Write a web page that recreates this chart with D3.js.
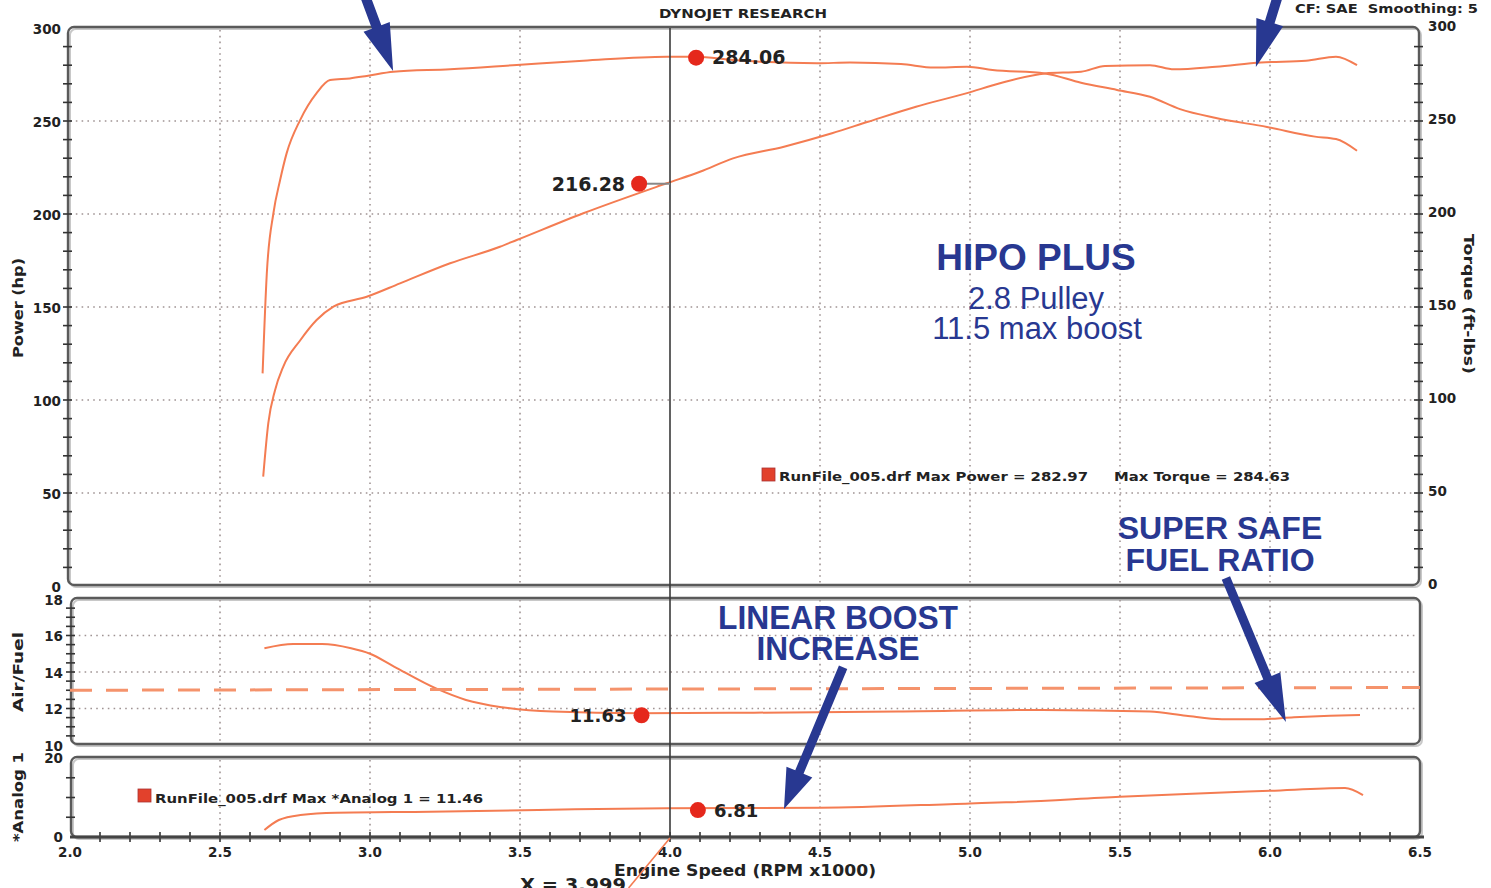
<!DOCTYPE html>
<html><head><meta charset="utf-8">
<script src="https://cdn.jsdelivr.net/npm/d3@7"></script>
<style>body{margin:0;background:#fff}svg{display:block}</style>
</head><body>
<svg id="c" width="1491" height="888"></svg>
<script>
// ---------- data ----------
const rpmTicks = [2.0, 2.5, 3.0, 3.5, 4.0, 4.5, 5.0, 5.5, 6.0, 6.5];
const rpmTickLabels = ["2.0","2.5","3.0","3.5","4.0","4.5","5.0","5.5","6.0","6.5"];
const powerTicks = [0, 50, 100, 150, 200, 250, 300];
const torqueTicks = [0, 50, 100, 150, 200, 250, 300];
const afrTicks = [10, 12, 14, 16, 18];
const analogTicks = [0, 20];

const powerRpm = [2.644,2.661,2.683,2.711,2.767,2.822,2.878,2.989,3.1,3.267,3.433,3.489,3.711,3.989,4.1,4.21,4.38,4.54,4.66,4.82,4.99,5.1,5.25,5.37,5.45,5.6,5.68,5.82,5.97,6.12,6.22,6.29];
const powerHp  = [58.8,87.6,105,118,132,143,150.2,155.5,162.7,173.5,182.4,186,200.4,216.5,222.7,229.9,236.2,243.4,249.6,257.7,265,270.3,275.6,276.5,279.6,280,277.8,279.2,281.5,282.4,284.6,280];

const torqueRpm = [2.642,2.656,2.678,2.7,2.722,2.767,2.822,2.867,2.933,2.989,3.078,3.267,3.489,3.711,3.989,4.087,4.21,4.49,4.6,4.77,4.88,4.99,5.075,5.25,5.37,5.49,5.6,5.7,5.82,5.99,6.15,6.22,6.29];
const torqueFtlb = [114.3,168,200.4,218,232.6,250.5,265,272,272.9,274.2,276.5,277.8,280.1,282.4,284.6,284.6,282.8,281,281.5,280.6,278.7,279.2,277.4,275.6,270.6,266.7,263,256.4,251.6,246.8,241.6,240.3,234];

const afrRpm = [2.648,2.744,2.84,2.937,3.0,3.08,3.22,3.32,3.44,3.61,3.9,4.28,4.76,5.24,5.6,5.72,5.84,5.96,6.08,6.2,6.3];
const afrVal = [15.3,15.53,15.53,15.3,15.0,14.3,13.1,12.47,12.07,11.83,11.74,11.77,11.83,11.92,11.83,11.6,11.41,11.41,11.52,11.6,11.64];
const afrTargetRpm = [2.0, 6.5];
const afrTargetVal = [13.0, 13.15];

const analogRpm = [2.648,2.696,2.768,2.888,3.2,3.56,3.99,4.5,5.0,5.12,5.5,5.72,6.0,6.25,6.31];
const analogVal = [1.77,4.3,5.57,6.15,6.4,6.84,7.3,7.4,8.5,8.77,10.2,10.9,11.7,12.4,10.6];

const cursorRpm = 4.0;
const powerMarker = {rpm: 4.087, value: 284.06, label: "284.06"};
const torqueMarker = {rpm: 3.897, value: 216.28, label: "216.28"};
const afrMarker = {rpm: 3.905, value: 11.63, label: "11.63"};
const analogMarker = {rpm: 4.093, value: 6.81, label: "6.81"};

// ---------- setup ----------
const svg = d3.select("#c");
const FD = "'DejaVu Sans', Verdana, sans-serif";
const FB = "'Liberation Sans', Arial, sans-serif";
const ORANGE = "#F47C52", RED = "#E5281C", BLUE = "#283891", GRID = "#a09494", DARK = "#222";

const x = d3.scaleLinear([2.0, 6.5], [70, 1420]);
const yMain = d3.scaleLinear([0, 300], [586, 28]);
const yAfr = d3.scaleLinear([10, 18], [745, 599]);
const yAn = d3.scaleLinear([0, 20], [837, 758]);

svg.append("rect").attr("width",1491).attr("height",888).attr("fill","#fff");

// panels
const panels = [
  {l:68, t:27, r:1419, b:585},
  {l:71, t:598, r:1420, b:744},
  {l:71, t:757, r:1420, b:837}
];
panels.forEach(p => {
  svg.append("rect").attr("x",p.l+2).attr("y",p.t+2).attr("width",p.r-p.l).attr("height",p.b-p.t)
    .attr("rx",6).attr("fill","none").attr("stroke","#c8c8c8").attr("stroke-width",2);
});

// grids
const gridG = svg.append("g").attr("stroke",GRID).attr("stroke-width",1.6).attr("stroke-dasharray","1.6,4.2").attr("fill","none");
[50,100,150,200,250].forEach(v => gridG.append("line").attr("x1",70).attr("x2",1418).attr("y1",yMain(v)).attr("y2",yMain(v)));
[12,14,16].forEach(v => gridG.append("line").attr("x1",73).attr("x2",1418).attr("y1",yAfr(v)).attr("y2",yAfr(v)));
rpmTicks.filter(r => r > 2.0 && r < 6.5 && r !== cursorRpm).forEach(r => {
  gridG.append("line").attr("x1",x(r)).attr("x2",x(r)).attr("y1",30).attr("y2",584);
  gridG.append("line").attr("x1",x(r)).attr("x2",x(r)).attr("y1",600).attr("y2",743);
  gridG.append("line").attr("x1",x(r)).attr("x2",x(r)).attr("y1",760).attr("y2",835);
});

// frames
panels.forEach(p => {
  svg.append("rect").attr("x",p.l).attr("y",p.t).attr("width",p.r-p.l).attr("height",p.b-p.t)
    .attr("rx",6).attr("fill","none").attr("stroke","#5a5a5a").attr("stroke-width",2.4);
});

// minor ticks
const tickG = svg.append("g").attr("stroke","#333").attr("stroke-width",1.6);
d3.range(10, 300, 10).forEach(v => {
  tickG.append("line").attr("x1",63).attr("x2",72).attr("y1",yMain(v)).attr("y2",yMain(v));
  tickG.append("line").attr("x1",1414).attr("x2",1423).attr("y1",yMain(v)).attr("y2",yMain(v));
});
d3.range(10.5, 18, 0.5).forEach(v => tickG.append("line").attr("x1",66).attr("x2",75).attr("y1",yAfr(v)).attr("y2",yAfr(v)));
[5,10,15].forEach(v => tickG.append("line").attr("x1",66).attr("x2",75).attr("y1",yAn(v)).attr("y2",yAn(v)));
d3.range(2.1, 6.5, 0.1).forEach(r => tickG.append("line").attr("x1",x(r)).attr("x2",x(r)).attr("y1",832).attr("y2",842));
svg.append("line").attr("x1",70).attr("x2",1424).attr("y1",837).attr("y2",837).attr("stroke","#444").attr("stroke-width",3);

// axis labels
const lab = svg.append("g").attr("font-family",FD).attr("font-weight","bold").attr("font-size",13.5).attr("fill",DARK);
powerTicks.forEach(v => lab.append("text").attr("x",61).attr("y",yMain(v)+1).attr("dy","0.35em").attr("text-anchor","end").text(v));
torqueTicks.forEach(v => lab.append("text").attr("x",1428).attr("y",yMain(v)-2).attr("dy","0.35em").text(v));
afrTicks.forEach(v => lab.append("text").attr("x",63).attr("y",yAfr(v)+1).attr("dy","0.35em").attr("text-anchor","end").text(v));
analogTicks.forEach(v => lab.append("text").attr("x",63).attr("y",yAn(v)).attr("dy","0.35em").attr("text-anchor","end").text(v));
rpmTicks.forEach((r,i) => lab.append("text").attr("x",x(r)).attr("y",852).attr("dy","0.35em").attr("text-anchor","middle").text(rpmTickLabels[i]));

const rot = (t, cx, cy, ang, len) => lab.append("text").attr("transform",`translate(${cx},${cy}) rotate(${ang})`)
  .attr("text-anchor","middle").attr("dy","0.35em").attr("font-size",14).attr("textLength",len).attr("lengthAdjust","spacingAndGlyphs").text(t);
rot("Power (hp)", 18, 308, -90, 100);
rot("Air/Fuel", 18, 672, -90, 80);
rot("*Analog 1", 18, 797, -90, 90);
rot("Torque (ft-lbs)", 1469, 304, 90, 140);

lab.append("text").attr("x",659).attr("y",18).attr("font-size",13).attr("textLength",168).attr("lengthAdjust","spacingAndGlyphs").text("DYNOJET RESEARCH");
lab.append("text").attr("x",1295).attr("y",13).attr("font-size",13).attr("textLength",183).attr("lengthAdjust","spacingAndGlyphs").text("CF: SAE\u00A0\u00A0Smoothing: 5");
lab.append("text").attr("x",614).attr("y",876).attr("font-size",15.5).attr("textLength",262).attr("lengthAdjust","spacingAndGlyphs").text("Engine Speed (RPM x1000)");
lab.append("text").attr("x",520).attr("y",891).attr("font-size",17).attr("textLength",106).attr("lengthAdjust","spacingAndGlyphs").text("X = 3.999");

// legends
svg.append("rect").attr("x",762).attr("y",468).attr("width",13).attr("height",13).attr("fill","#E2412C").attr("stroke","#a33").attr("stroke-width",0.8);
lab.append("text").attr("x",779).attr("y",481).attr("font-size",13).attr("textLength",309).attr("lengthAdjust","spacingAndGlyphs").text("RunFile_005.drf Max Power = 282.97");
lab.append("text").attr("x",1114).attr("y",481).attr("font-size",13).attr("textLength",176).attr("lengthAdjust","spacingAndGlyphs").text("Max Torque = 284.63");
svg.append("rect").attr("x",138).attr("y",789).attr("width",13).attr("height",13).attr("fill","#E2412C").attr("stroke","#a33").attr("stroke-width",0.8);
lab.append("text").attr("x",155).attr("y",803).attr("font-size",13).attr("textLength",328).attr("lengthAdjust","spacingAndGlyphs").text("RunFile_005.drf Max *Analog 1 = 11.46");

// curves
const mk = (rs, vs) => rs.map((r,i) => [r, vs[i]]);
const lineMain = d3.line().x(d => x(d[0])).y(d => yMain(d[1])).curve(d3.curveMonotoneX);
const lineAfr = d3.line().x(d => x(d[0])).y(d => yAfr(d[1])).curve(d3.curveMonotoneX);
const lineAn = d3.line().x(d => x(d[0])).y(d => yAn(d[1])).curve(d3.curveMonotoneX);
const curveG = svg.append("g").attr("fill","none").attr("stroke",ORANGE).attr("stroke-width",2).attr("stroke-linejoin","round");
curveG.append("path").attr("d", lineMain(mk(powerRpm, powerHp)));
curveG.append("path").attr("d", lineMain(mk(torqueRpm, torqueFtlb)));
curveG.append("path").attr("d", lineAfr(mk(afrRpm, afrVal)));
curveG.append("path").attr("d", lineAn(mk(analogRpm, analogVal)));
svg.append("path").attr("d", d3.line().x(d => x(d[0])).y(d => yAfr(d[1]))(mk(afrTargetRpm, afrTargetVal)))
  .attr("fill","none").attr("stroke","#F5936C").attr("stroke-width",3).attr("stroke-dasharray","22,14");

// cursor
svg.append("line").attr("x1",x(cursorRpm)).attr("x2",x(cursorRpm)).attr("y1",28).attr("y2",837).attr("stroke","#3a3a3a").attr("stroke-width",1.6);
svg.append("line").attr("x1",x(cursorRpm)).attr("y1",838).attr("x2",x(3.862)).attr("y2",888).attr("stroke",ORANGE).attr("stroke-width",1.6);
svg.append("line").attr("x1",x(torqueMarker.rpm)).attr("x2",x(cursorRpm)).attr("y1",yMain(torqueMarker.value)).attr("y2",yMain(torqueMarker.value)).attr("stroke","#888").attr("stroke-width",2);

// markers
const mg = svg.append("g");
const dot = (cx, cy) => mg.append("circle").attr("cx",cx).attr("cy",cy).attr("r",8).attr("fill",RED);
dot(x(powerMarker.rpm), yMain(powerMarker.value));
dot(x(torqueMarker.rpm), yMain(torqueMarker.value));
dot(x(afrMarker.rpm), yAfr(afrMarker.value));
dot(x(analogMarker.rpm), yAn(analogMarker.value));
const ml = svg.append("g").attr("font-family",FD).attr("font-weight","bold").attr("font-size",19).attr("fill",DARK);
ml.append("text").attr("x",x(powerMarker.rpm)+16).attr("y",yMain(powerMarker.value)).attr("dy","0.36em").text(powerMarker.label);
ml.append("text").attr("x",x(torqueMarker.rpm)-14).attr("y",yMain(torqueMarker.value)).attr("dy","0.36em").attr("text-anchor","end").text(torqueMarker.label);
ml.append("text").attr("x",x(afrMarker.rpm)-15).attr("y",yAfr(afrMarker.value)).attr("dy","0.36em").attr("text-anchor","end").attr("font-size",18).text(afrMarker.label);
ml.append("text").attr("x",x(analogMarker.rpm)+16).attr("y",yAn(analogMarker.value)).attr("dy","0.36em").attr("font-size",18).text(analogMarker.label);

// annotations
const ann = svg.append("g").attr("font-family",FB).attr("fill",BLUE).attr("text-anchor","middle");
ann.append("text").attr("x",1036).attr("y",270).attr("font-weight","bold").attr("font-size",37).text("HIPO PLUS");
ann.append("text").attr("x",1036).attr("y",309).attr("font-size",31).text("2.8 Pulley");
ann.append("text").attr("x",1037).attr("y",339).attr("font-size",31).text("11.5 max boost");
ann.append("text").attr("x",1220).attr("y",539).attr("font-weight","bold").attr("font-size",32).text("SUPER SAFE");
ann.append("text").attr("x",1220).attr("y",571).attr("font-weight","bold").attr("font-size",32).text("FUEL RATIO");
ann.append("text").attr("x",838).attr("y",629).attr("font-weight","bold").attr("font-size",34).attr("textLength",240).attr("lengthAdjust","spacingAndGlyphs").text("LINEAR BOOST");
ann.append("text").attr("x",838).attr("y",660).attr("font-weight","bold").attr("font-size",34).attr("textLength",163).attr("lengthAdjust","spacingAndGlyphs").text("INCREASE");

function arrow(x0,y0,x1,y1,sw,hl,hw){
  const L = Math.hypot(x1-x0,y1-y0), ux=(x1-x0)/L, uy=(y1-y0)/L, nx=-uy, ny=ux;
  const bx = x1-ux*hl, by = y1-uy*hl;
  const pts = [[x0+nx*sw/2,y0+ny*sw/2],[bx+nx*sw/2,by+ny*sw/2],[bx+nx*hw/2,by+ny*hw/2],[x1,y1],
               [bx-nx*hw/2,by-ny*hw/2],[bx-nx*sw/2,by-ny*sw/2],[x0-nx*sw/2,y0-ny*sw/2]];
  svg.append("polygon").attr("points",pts.map(p=>p.join(",")).join(" ")).attr("fill",BLUE);
}
arrow(x(2.98), yMain(318.8), x(3.077), yMain(276.9), 10, 47, 28);
arrow(x(6.027), yMain(317.7), x(5.953), yMain(279), 10, 47, 28);
arrow(x(5.853), yAfr(19.15), x(6.053), yAfr(11.26), 9, 48, 28);
arrow(x(4.577), yAn(43.0), x(4.38), yAn(7.09), 9, 40, 28);
</script>
</body></html>
